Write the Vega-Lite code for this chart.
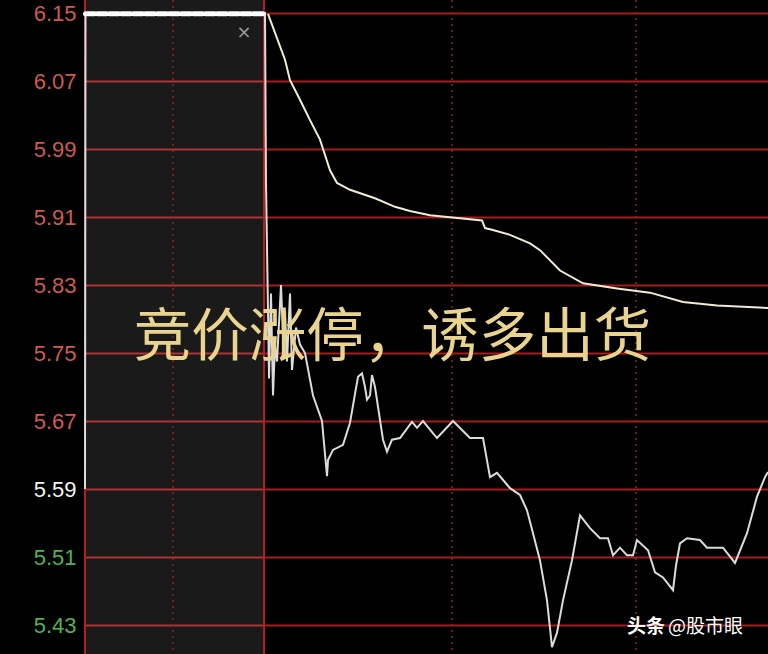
{
  "$schema": "https://vega.github.io/schema/vega-lite/v6.json",
  "width": 683,
  "height": 654,
  "autosize": "none",
  "padding": {"left": 85, "top": 0, "right": 0, "bottom": 0},
  "background": "#000000",
  "config": {"view": {"stroke": null}},
  "datasets": {
    "box": [{"t0": 0, "t1": 179}],
    "vlines": [
      {"t": 88, "style": "dot"},
      {"t": 367, "style": "dot"},
      {"t": 551, "style": "dot"}
    ],
    "solid": [{"t": 0}, {"t": 179}],
    "beads": [{"t": 0.5, "v": 6.149}, {"t": 179, "v": 6.149}],
    "price": [
      {"t": 0, "v": 5.59}, {"t": 0.5, "v": 6.15}, {"t": 180, "v": 6.15},
      {"t": 181, "v": 5.95}, {"t": 183, "v": 5.80}, {"t": 184, "v": 5.72}, {"t": 186, "v": 5.82},
      {"t": 188, "v": 5.70}, {"t": 190, "v": 5.76}, {"t": 192, "v": 5.74}, {"t": 196, "v": 5.83},
      {"t": 198, "v": 5.77}, {"t": 200, "v": 5.80}, {"t": 202, "v": 5.74}, {"t": 205, "v": 5.82},
      {"t": 207, "v": 5.73}, {"t": 211, "v": 5.78}, {"t": 215, "v": 5.76}, {"t": 220, "v": 5.75},
      {"t": 228, "v": 5.70}, {"t": 237, "v": 5.67}, {"t": 242, "v": 5.605}, {"t": 243, "v": 5.624},
      {"t": 248, "v": 5.636}, {"t": 258, "v": 5.642}, {"t": 265, "v": 5.668}, {"t": 273, "v": 5.722},
      {"t": 277, "v": 5.726}, {"t": 280, "v": 5.71}, {"t": 282, "v": 5.695}, {"t": 285, "v": 5.70},
      {"t": 287, "v": 5.724}, {"t": 290, "v": 5.71}, {"t": 298, "v": 5.648}, {"t": 302, "v": 5.634},
      {"t": 307, "v": 5.648}, {"t": 315, "v": 5.650}, {"t": 327, "v": 5.669}, {"t": 332, "v": 5.662},
      {"t": 338, "v": 5.670}, {"t": 345, "v": 5.66}, {"t": 352, "v": 5.650}, {"t": 368, "v": 5.670},
      {"t": 385, "v": 5.650}, {"t": 398, "v": 5.650}, {"t": 405, "v": 5.604}, {"t": 412, "v": 5.609},
      {"t": 425, "v": 5.591}, {"t": 435, "v": 5.583}, {"t": 442, "v": 5.565}, {"t": 448, "v": 5.538},
      {"t": 455, "v": 5.506}, {"t": 462, "v": 5.459}, {"t": 467, "v": 5.404}, {"t": 472, "v": 5.421},
      {"t": 478, "v": 5.459}, {"t": 487, "v": 5.506}, {"t": 495, "v": 5.559}, {"t": 505, "v": 5.544},
      {"t": 515, "v": 5.532}, {"t": 523, "v": 5.532}, {"t": 528, "v": 5.512}, {"t": 535, "v": 5.521},
      {"t": 542, "v": 5.512}, {"t": 548, "v": 5.512}, {"t": 552, "v": 5.530}, {"t": 563, "v": 5.518},
      {"t": 570, "v": 5.492}, {"t": 578, "v": 5.486}, {"t": 588, "v": 5.471}, {"t": 591, "v": 5.50},
      {"t": 595, "v": 5.526}, {"t": 602, "v": 5.532}, {"t": 615, "v": 5.530}, {"t": 622, "v": 5.521},
      {"t": 638, "v": 5.521}, {"t": 650, "v": 5.503}, {"t": 662, "v": 5.538}, {"t": 672, "v": 5.581},
      {"t": 680, "v": 5.604}, {"t": 683, "v": 5.61}
    ],
    "avg": [
      {"t": 183, "v": 6.149}, {"t": 200, "v": 6.095}, {"t": 205, "v": 6.071}, {"t": 215, "v": 6.048},
      {"t": 225, "v": 6.024}, {"t": 235, "v": 6.001}, {"t": 240, "v": 5.983}, {"t": 245, "v": 5.965},
      {"t": 252, "v": 5.950}, {"t": 265, "v": 5.942}, {"t": 290, "v": 5.932}, {"t": 310, "v": 5.922},
      {"t": 325, "v": 5.917}, {"t": 345, "v": 5.912}, {"t": 370, "v": 5.909}, {"t": 397, "v": 5.906},
      {"t": 400, "v": 5.897}, {"t": 407, "v": 5.895}, {"t": 425, "v": 5.889}, {"t": 445, "v": 5.879},
      {"t": 455, "v": 5.871}, {"t": 475, "v": 5.847}, {"t": 498, "v": 5.832}, {"t": 532, "v": 5.826},
      {"t": 565, "v": 5.821}, {"t": 598, "v": 5.810}, {"t": 632, "v": 5.806}, {"t": 683, "v": 5.803}
    ],
    "caption": [{"t": 307.5, "v": 5.766, "text": "竞价涨停，诱多出货"}],
    "close": [{"t": 159, "v": 6.126, "text": "×"}],
    "wm1": [{"t": 542, "v": 5.4276, "text": "头条"}],
    "wm2": [{"t": 583, "v": 5.4276, "text": "@股市眼"}]
  },
  "layer": [
    {
      "data": {"name": "box"},
      "mark": {"type": "rect", "fill": "#ffffff", "fillOpacity": 0.1},
      "encoding": {
        "x": {"field": "t0", "type": "quantitative", "scale": {"domain": [0, 683], "nice": false, "zero": false}, "axis": null},
        "x2": {"field": "t1"}
      }
    },
    {
      "data": {"name": "price"},
      "mark": {"type": "line", "color": "#dcdcdc", "strokeWidth": 2, "opacity": 0},
      "encoding": {
        "x": {"field": "t", "type": "quantitative", "scale": {"domain": [0, 683], "nice": false, "zero": false}, "axis": null},
        "y": {
          "field": "v", "type": "quantitative",
          "scale": {"domain": [5.3959, 6.1653], "nice": false, "zero": false},
          "axis": {
            "title": null,
            "values": [5.43, 5.51, 5.59, 5.67, 5.75, 5.83, 5.91, 5.99, 6.07, 6.15],
            "format": ".2f",
            "ticks": false,
            "domain": false,
            "labelFont": "Liberation Sans",
            "labelFontSize": 22,
            "labelPadding": 9,
            "labelColor": {"expr": "datum.value > 5.62 ? '#cf5a50' : (datum.value > 5.55 ? '#f2f2f2' : '#4fb34f')"},
            "grid": true,
            "gridColor": "#a81c1c",
            "gridWidth": 2,
            "gridOpacity": 1
          }
        }
      }
    },
    {
      "data": {"name": "vlines"},
      "mark": {"type": "rule", "color": "#8e2222", "strokeWidth": 1.5, "strokeDash": [2, 4]},
      "encoding": {"x": {"field": "t", "type": "quantitative"}}
    },
    {
      "data": {"name": "solid"},
      "mark": {"type": "rule", "color": "#b02020", "strokeWidth": 2},
      "encoding": {"x": {"field": "t", "type": "quantitative"}}
    },
    {
      "data": {"name": "avg"},
      "mark": {"type": "line", "color": "#f0ead6", "strokeWidth": 2},
      "encoding": {
        "x": {"field": "t", "type": "quantitative"},
        "y": {"field": "v", "type": "quantitative"}
      }
    },
    {
      "data": {"name": "price"},
      "mark": {"type": "line", "color": "#dcdcdc", "strokeWidth": 2},
      "encoding": {
        "x": {"field": "t", "type": "quantitative"},
        "y": {"field": "v", "type": "quantitative"}
      }
    },
    {
      "data": {"name": "beads"},
      "mark": {"type": "line", "color": "#ffffff", "strokeWidth": 5, "strokeDash": [9, 3], "strokeCap": "round"},
      "encoding": {
        "x": {"field": "t", "type": "quantitative"},
        "y": {"field": "v", "type": "quantitative"}
      }
    },
    {
      "data": {"name": "close"},
      "mark": {"type": "text", "color": "#9a9a9a", "fontSize": 18, "font": "DejaVu Sans"},
      "encoding": {
        "x": {"field": "t", "type": "quantitative"},
        "y": {"field": "v", "type": "quantitative"},
        "text": {"field": "text"}
      }
    },
    {
      "data": {"name": "caption"},
      "mark": {"type": "text", "color": "#e8d48e", "fontSize": 57.5, "font": "Noto Sans CJK SC", "fontWeight": 400, "align": "center", "baseline": "middle"},
      "encoding": {
        "x": {"field": "t", "type": "quantitative"},
        "y": {"field": "v", "type": "quantitative"},
        "text": {"field": "text"}
      }
    },
    {
      "data": {"name": "wm1"},
      "mark": {"type": "text", "color": "#ffffff", "fontSize": 19, "fontWeight": "bold", "font": "Noto Sans CJK SC", "align": "left", "baseline": "middle"},
      "encoding": {
        "x": {"field": "t", "type": "quantitative"},
        "y": {"field": "v", "type": "quantitative"},
        "text": {"field": "text"}
      }
    },
    {
      "data": {"name": "wm2"},
      "mark": {"type": "text", "color": "#ffffff", "fontSize": 19, "font": "Noto Sans CJK SC", "align": "left", "baseline": "middle"},
      "encoding": {
        "x": {"field": "t", "type": "quantitative"},
        "y": {"field": "v", "type": "quantitative"},
        "text": {"field": "text"}
      }
    }
  ]
}
